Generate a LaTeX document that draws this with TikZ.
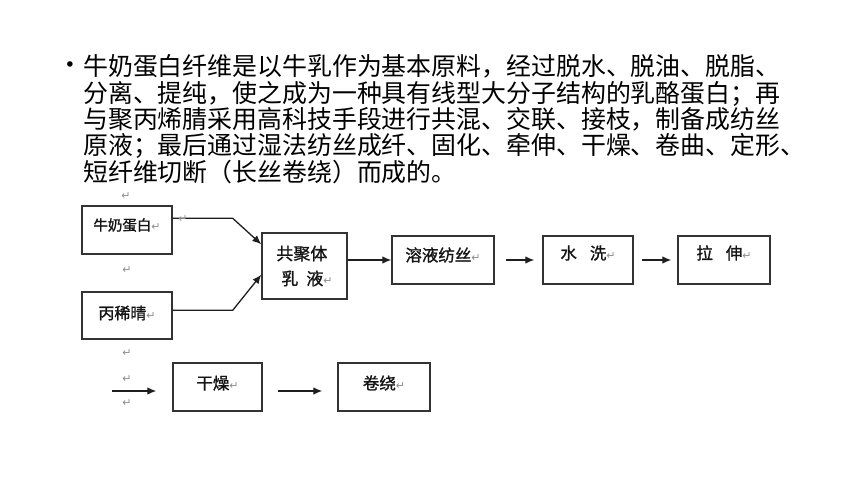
\documentclass[tikz,border=0pt]{standalone}
\usepackage{fontspec}
\newfontfamily\cjk{Noto Sans CJK SC}
\newfontfamily\cjkb[FakeBold=1.2]{Noto Sans CJK SC}
\newfontfamily\symf{DejaVu Sans}
\usetikzlibrary{arrows.meta}
\definecolor{pmgray}{HTML}{8E8E8E}
\definecolor{boxline}{HTML}{333333}
\definecolor{arrowline}{HTML}{1E1E1E}
\newcommand{\pmk}{{\symf\fontsize{11}{11}\selectfont\color{pmgray}↵}}
\begin{document}
\begin{tikzpicture}[x=1pt,y=-1pt,
  txtline/.style={anchor=base west, inner sep=0, font=\cjk\fontsize{24.9}{26.3}\selectfont},
  box/.style={draw=boxline, line width=1.4pt, inner sep=0, text=black!92, text height=10pt},
  conn/.style={draw=arrowline, line width=1.3pt, -{Latex[length=9pt,width=7.5pt]}},
  pmark/.style={inner sep=0, font=\symf\fontsize{11}{11}\selectfont, text=pmgray}]
\useasboundingbox[fill=white] (0,0) rectangle (860,484);

% paragraph text
\node[inner sep=0, font=\symf\fontsize{19}{19}\selectfont] (bul) at (70,66.7) {•};
\node[txtline] (l1) at (83,76)    {牛奶蛋白纤维是以牛乳作为基本原料，经过脱水、脱油、脱脂、};
\node[txtline] (l2) at (83,102.3) {分离、提纯，使之成为一种具有线型大分子结构的乳酪蛋白；再};
\node[txtline] (l3) at (83,128.6) {与聚丙烯腈采用高科技手段进行共混、交联、接枝，制备成纺丝};
\node[txtline] (l4) at (83,154.9) {原液；最后通过湿法纺丝成纤、固化、牵伸、干燥、卷曲、定形、};
\node[txtline] (l5) at (83,181.2) {短纤维切断（长丝卷绕）而成的。};

% boxes
\node[box, minimum width=90pt, minimum height=48pt, font=\cjkb\fontsize{14.5}{20}\selectfont, text depth=9pt] (ma) at (127,230) {牛奶蛋白\pmk};
\node[box, minimum width=90pt, minimum height=47pt, font=\cjkb\fontsize{16}{20}\selectfont, text depth=2.8pt] (bx) at (127,315.5) {丙稀晴\pmk};
\node[box, minimum width=85pt, minimum height=66pt, font=\cjkb\fontsize{17}{25}\selectfont, align=left, text height=, text depth=] (gj) at (304.5,266) {共聚体\\\hspace*{5pt}乳\hspace{8pt}液\pmk};
\node[box, minimum width=102pt, minimum height=48pt, font=\cjkb\fontsize{16.5}{20}\selectfont, text depth=7.4pt] (ry) at (443,260) {溶液纺丝\pmk};
\node[box, minimum width=90pt, minimum height=48pt, font=\cjkb\fontsize{16.5}{20}\selectfont, text depth=11.4pt] (sx) at (588,260) {水\hspace{13pt}洗\pmk};
\node[box, minimum width=92pt, minimum height=48pt, font=\cjkb\fontsize{16.5}{20}\selectfont, text depth=11.4pt] (ls) at (724,260) {拉\hspace{13pt}伸\pmk};
\node[box, minimum width=89pt, minimum height=48pt, font=\cjkb\fontsize{16.5}{20}\selectfont, text depth=5.4pt] (gz) at (217.5,387) {干燥\pmk};
\node[box, minimum width=92pt, minimum height=48pt, font=\cjkb\fontsize{16.5}{20}\selectfont, text depth=5.4pt] (jr) at (384,387) {卷绕\pmk};

% connectors
\draw[conn] ([yshift=-13pt]ma.north east) -- ++(60,0) -- ([yshift=-12pt]gj.north west);
\draw[conn] ([yshift=-19pt]bx.north east) -- ++(60,0) -- ([yshift=25pt]gj.south west);
\draw[conn] (gj.east |- ry.west) -- (ry.west);
\draw[conn, shorten <=11pt, shorten >=8pt] (ry.east) -- (sx.west);
\draw[conn, shorten <=8pt, shorten >=6pt] (sx.east) -- (ls.west);
\coordinate (st) at (112,391);
\draw[conn, shorten >=16pt] (st) -- (st -| gz.west);
\draw[conn, shorten <=15pt, shorten >=15pt] (gz.east |- st) -- (jr.west |- st);

% paragraph marks
\node[pmark] (p1) at (126,196) {↵};
\node[pmark] (p2) at (127,270) {↵};
\node[pmark] (p3) at (127,353) {↵};
\node[pmark] (p4) at (127,379) {↵};
\node[pmark] (p5) at (127,403) {↵};
\node[pmark] (p6) at (183,219) {↵};
\end{tikzpicture}
\end{document}
